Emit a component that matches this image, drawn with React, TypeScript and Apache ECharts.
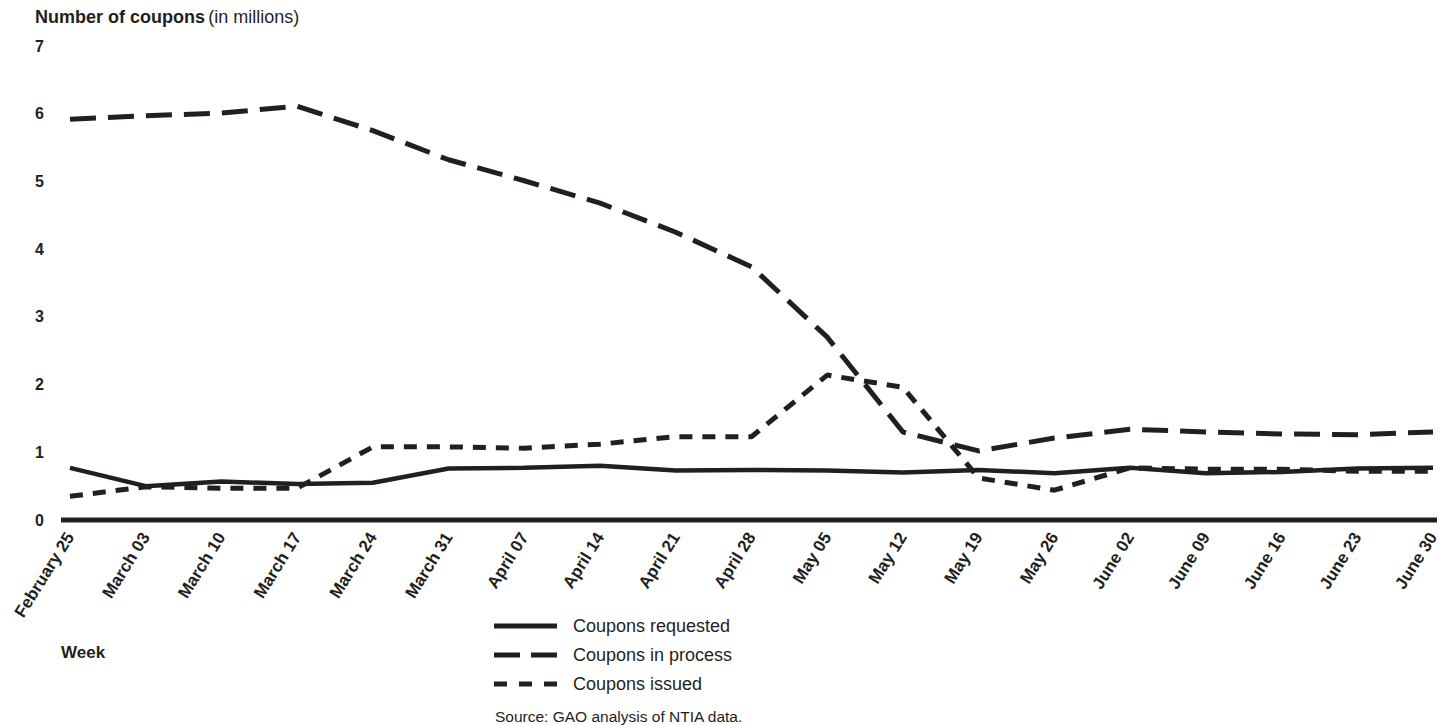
import React, { useEffect, useRef } from "react";
import * as echarts from "echarts";

const weeks = [
  "February 25", "March 03", "March 10", "March 17", "March 24", "March 31",
  "April 07", "April 14", "April 21", "April 28", "May 05", "May 12",
  "May 19", "May 26", "June 02", "June 09", "June 16", "June 23", "June 30",
];

const requested = [0.77, 0.5, 0.57, 0.53, 0.55, 0.76, 0.77, 0.8, 0.73, 0.74, 0.73, 0.7, 0.74, 0.69, 0.77, 0.69, 0.71, 0.76, 0.77];
const inProcess = [5.92, 5.97, 6.01, 6.11, 5.75, 5.32, 5.01, 4.68, 4.25, 3.74, 2.7, 1.3, 1.02, 1.21, 1.34, 1.3, 1.27, 1.26, 1.3];
const issued = [0.35, 0.49, 0.47, 0.47, 1.08, 1.08, 1.06, 1.12, 1.23, 1.23, 2.14, 1.96, 0.62, 0.44, 0.77, 0.75, 0.75, 0.72, 0.72];

const yTicks = [0, 1, 2, 3, 4, 5, 6, 7];

const seriesNames = ["Coupons requested", "Coupons in process", "Coupons issued"];
const seriesDash: any[] = ["solid", [26, 12], [13, 10]];
const legendDash: any[] = [null, [26, 11], [13, 12]];

const INK = "#231f20";
const FONT = "'Liberation Sans', Arial, Helvetica, sans-serif";

export default function App() {
  const ref = useRef<HTMLDivElement>(null);

  useEffect(() => {
    if (!ref.current) return;
    const chart = echarts.init(ref.current, undefined, { renderer: "svg" });
    const values = [requested, inProcess, issued];
    const option: any = {
      animation: false,
      backgroundColor: "#ffffff",
      textStyle: { fontFamily: FONT, color: INK },
      grid: { left: 70, right: 16, top: 46, bottom: 205, containLabel: false },
      xAxis: {
        type: "category",
        data: weeks,
        boundaryGap: false,
        axisLine: { show: false },
        axisTick: { show: false },
        axisLabel: {
          rotate: 58,
          margin: 14,
          interval: 0,
          fontFamily: FONT,
          fontWeight: "bold",
          fontSize: 17,
          color: INK,
        },
        splitLine: { show: false },
      },
      yAxis: {
        type: "value",
        min: yTicks[0],
        max: yTicks[yTicks.length - 1],
        interval: 1,
        axisLine: { show: false },
        axisTick: { show: false },
        splitLine: { show: false },
        axisLabel: {
          margin: 26,
          fontFamily: FONT,
          fontWeight: "bold",
          fontSize: 16,
          color: INK,
        },
      },
      series: seriesNames.map((name, i) => ({
        name,
        type: "line",
        data: values[i],
        symbol: "none",
        color: INK,
        lineStyle: { width: i === 0 ? 4.5 : 5, color: INK, type: seriesDash[i] },
      })),
    };
    chart.setOption(option);

    const p0 = chart.convertToPixel({ gridIndex: 0 }, [0, 0]) as number[];
    const pN = chart.convertToPixel({ gridIndex: 0 }, [weeks.length - 1, 0]) as number[];

    const legendItems: any[] = [];
    seriesNames.forEach((name, i) => {
      const y = 626 + i * 29;
      const style: any = { stroke: INK, lineWidth: 5 };
      if (legendDash[i]) style.lineDash = legendDash[i];
      legendItems.push({
        type: "line",
        shape: { x1: 494, y1: y, x2: 557, y2: y },
        style,
      });
      legendItems.push({
        type: "text",
        x: 573,
        y,
        style: {
          text: name,
          fontFamily: FONT,
          fontSize: 18,
          fill: INK,
          verticalAlign: "middle",
        },
      });
    });

    chart.setOption({
      graphic: [
        {
          type: "line",
          shape: { x1: p0[0] - 9, y1: p0[1], x2: pN[0] + 4, y2: pN[1] },
          style: { stroke: INK, lineWidth: 5 },
          z: 1,
        },
        {
          type: "text",
          x: 35,
          y: 17,
          style: {
            text: "{b|Number of coupons} {r|(in millions)}",
            verticalAlign: "middle",
            rich: {
              b: { fontFamily: FONT, fontWeight: "bold", fontSize: 18, fill: INK },
              r: { fontFamily: FONT, fontSize: 18, fill: INK },
            },
          },
        },
        {
          type: "text",
          x: 61,
          y: 652,
          style: {
            text: "Week",
            fontFamily: FONT,
            fontWeight: "bold",
            fontSize: 17,
            fill: INK,
            verticalAlign: "middle",
          },
        },
        {
          type: "text",
          x: 495,
          y: 716,
          style: {
            text: "Source: GAO analysis of NTIA data.",
            fontFamily: FONT,
            fontSize: 15.5,
            fill: INK,
            verticalAlign: "middle",
          },
        },
        ...legendItems,
      ],
    });

    return () => chart.dispose();
  }, []);

  return (
    <div
      ref={ref}
      style={{ position: "fixed", left: 0, top: 0, width: "1449px", height: "725px" }}
    />
  );
}
